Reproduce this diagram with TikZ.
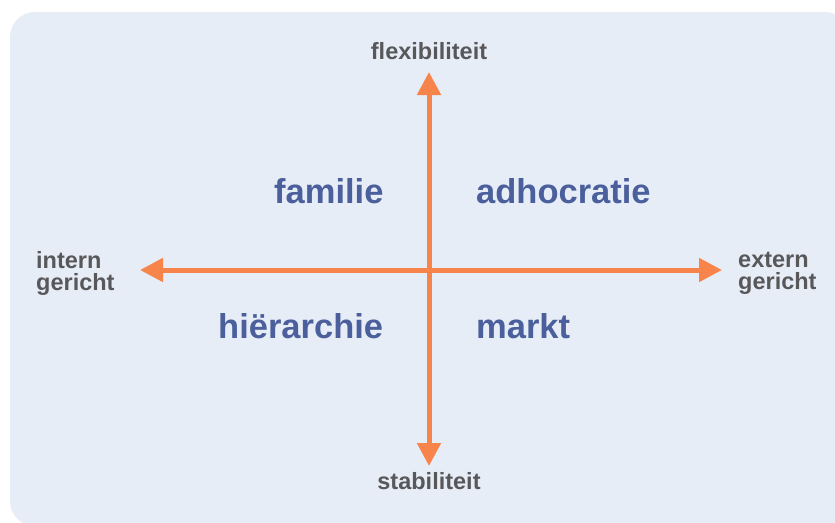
\documentclass[tikz,border=0pt]{standalone}
\usepackage{fontspec}
\setmainfont{Liberation Sans}
\usetikzlibrary{arrows.meta}
\definecolor{bgc}{HTML}{E7EDF7}
\definecolor{axc}{HTML}{F7844B}
\definecolor{quadc}{HTML}{4A5F9B}
\definecolor{labc}{HTML}{58585A}
\tikzset{
  axis/.style={draw=axc,line width=5pt,{Triangle[length=23pt,width=23pt]}-{Triangle[length=23pt,width=23pt]}},
  quad/.style={font=\fontsize{34.5}{36}\selectfont\bfseries,text=quadc,inner sep=0pt,anchor=base west},
  endlab/.style={font=\fontsize{23.5}{22}\selectfont\bfseries,text=labc,inner sep=0pt},
  sidelab/.style={font=\fontsize{23.5}{22}\selectfont\bfseries,text=labc,inner sep=0pt,align=left,anchor=west}
}
\begin{document}
\begin{tikzpicture}[x=1pt,y=-1pt]
\useasboundingbox (0,0) rectangle (835,522);
\begin{scope}
\clip (0,0) rectangle (835,522);
\fill[bgc,rounded corners=25pt] (10,12) rectangle (850,526);
\end{scope}
\coordinate (top) at (429,72);
\coordinate (bot) at (429,466);
\coordinate (lft) at (140,270);
\coordinate (rgt) at (722,270);
\draw[axis] (lft) -- (rgt);
\draw[axis] (bot) -- (top);
\node[endlab,anchor=base] (flex) at (429,59) {flexibiliteit};
\node[endlab,anchor=base] (stab) at (429,489) {stabiliteit};
\node[sidelab] (intern) at (36,273) {intern\\gericht};
\node[sidelab] (extern) at (738,273) {extern\\gericht};
\node[quad] (fam) at (274,203) {familie};
\node[quad] (adh) at (476,203) {adhocratie};
\node[quad] (hie) at (218,338) {hiërarchie};
\node[quad] (mar) at (476,338) {markt};
\end{tikzpicture}
\end{document}
